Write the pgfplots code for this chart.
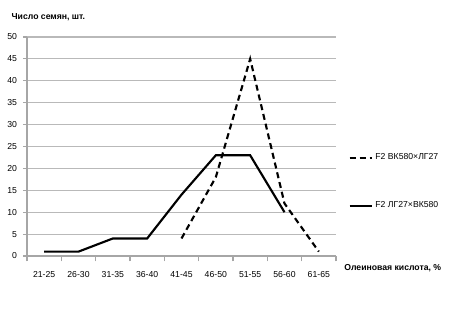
\documentclass[border=0pt]{standalone}
\usepackage{fontspec}
\setmainfont{Liberation Sans}
\usepackage{pgfplots}
\pgfplotsset{compat=1.18}
\begin{document}
\begin{tikzpicture}
\path[use as bounding box] (0pt,0pt) rectangle (339.75pt,241.5pt);
\begin{axis}[
  at={(20.25pt,49.5pt)}, anchor=south west,
  scale only axis, width=231.75pt, height=164.25pt,
  xmin=-0.5, xmax=8.5, ymin=0, ymax=50,
  axis x line=bottom, axis y line=left,
  axis line style={-, draw=gray!70, line width=0.8pt},
  xtick={0,...,8},
  xticklabels={21-25,26-30,31-35,36-40,41-45,46-50,51-55,56-60,61-65},
  minor xtick={-0.5,0.5,...,8.5},
  major x tick style={draw=none},
  minor x tick style={draw=gray!70, line width=0.8pt},
  ytick={0,5,...,50},
  y tick style={draw=gray!70, line width=0.8pt},
  tick align=outside, major tick length=3pt, minor tick length=4pt,
  ymajorgrids, grid style={gray!55, line width=0.8pt},
  tick label style={font=\fontsize{6.5}{7}\selectfont},
  xticklabel style={yshift=-5pt},
  yticklabel style={xshift=-1pt},
  /pgf/number format/assume math mode=true,
  clip=false,
  legend style={draw=none, fill=none, at={(1.04,0.48)}, anchor=north west,
    font=\fontsize{6.5}{7}\selectfont, row sep=26pt, inner sep=0pt},
  legend cell align=left,
  legend image code/.code={\draw[#1] (0cm,0cm) -- (0.58cm,0cm);},
]
\addplot[black, line width=1.6pt, dash pattern=on 4.5pt off 3pt]
  coordinates {(4,4) (5,18) (6,45) (7,12) (8,1)};
\addlegendentry{F2 ВК580×ЛГ27}
\addplot[black, line width=1.6pt]
  coordinates {(0,1) (1,1) (2,4) (3,4) (4,14) (5,23) (6,23) (7,10)};
\addlegendentry{F2 ЛГ27×ВК580}
\node[anchor=west, font=\fontsize{6.5}{7}\selectfont\bfseries] at (axis description cs:-0.065,1.09) {Число семян, шт.};
\node[anchor=west, font=\fontsize{6.5}{7}\selectfont\bfseries] at (axis description cs:1.012,-0.055) {Олеиновая кислота, \%};
\end{axis}
\end{tikzpicture}
\end{document}
